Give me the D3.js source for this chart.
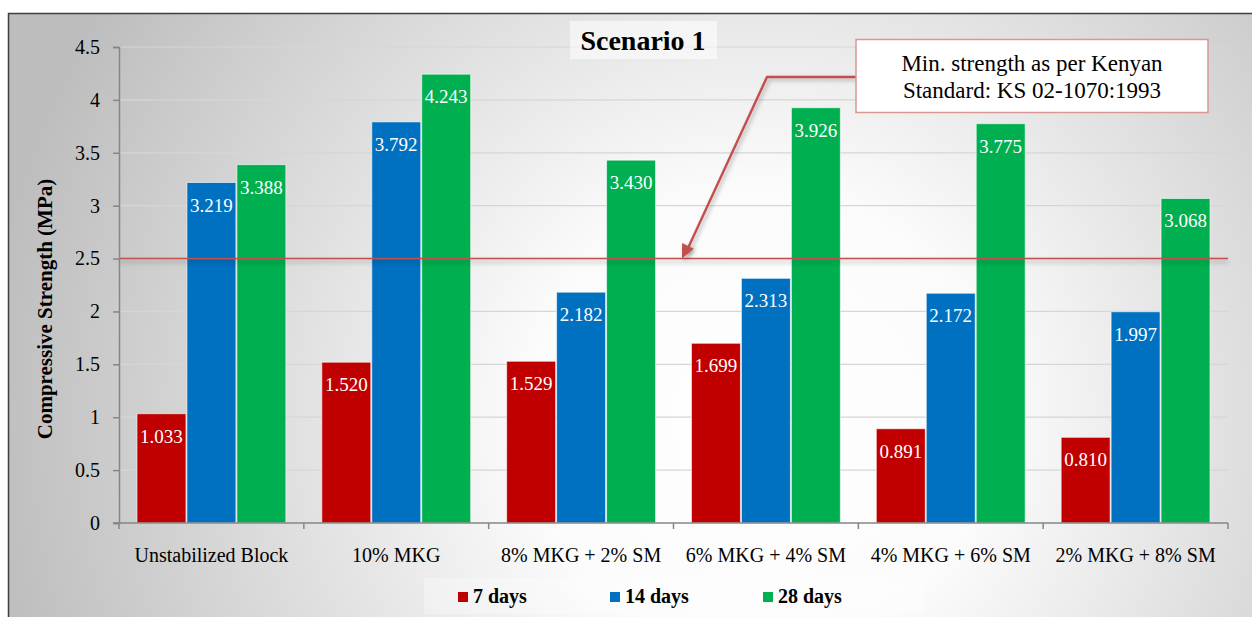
<!DOCTYPE html>
<html>
<head>
<meta charset="utf-8">
<script src="https://cdn.jsdelivr.net/npm/d3@7"></script>
<style>
  html, body { margin: 0; padding: 0; background: #ffffff; }
  svg { display: block; }
</style>
</head>
<body>
<svg id="chart" width="1252" height="617"></svg>
<script>
// Mix designations
const categories = ["Unstabilized Block", "10% MKG", "8% MKG + 2% SM", "6% MKG + 4% SM", "4% MKG + 6% SM", "2% MKG + 8% SM"];
// Curing ages
const seriesNames = ["7 days", "14 days", "28 days"];
const seriesColors = ["#c00000", "#0070c0", "#00b050"];
// Compressive strength (MPa) per curing age
const days7  = [1.033, 1.520, 1.529, 1.699, 0.891, 0.810];
const days14 = [3.219, 3.792, 2.182, 2.313, 2.172, 1.997];
const days28 = [3.388, 4.243, 3.430, 3.926, 3.775, 3.068];
const seriesValues = [days7, days14, days28];
// Axis ticks and reference level
const yTicks = [0, 0.5, 1, 1.5, 2, 2.5, 3, 3.5, 4, 4.5];
const minStrength = 2.5;

const SERIF = "'Liberation Serif', 'Times New Roman', Times, 'DejaVu Serif', serif";

const svg = d3.select("#chart").style("font-family", SERIF);
const defs = svg.append("defs");

const bg = defs.append("radialGradient").attr("id", "bgGrad")
  .attr("gradientUnits", "userSpaceOnUse")
  .attr("cx", 760).attr("cy", 420).attr("r", 780);
bg.append("stop").attr("offset", 0).attr("stop-color", "#ffffff");
bg.append("stop").attr("offset", 0.3).attr("stop-color", "#fbfbfb");
bg.append("stop").attr("offset", 1).attr("stop-color", "#bdbdbd");

// Soft shadow used under the reference line and the arrow
const shadow = defs.append("filter").attr("id", "shadow")
  .attr("filterUnits", "userSpaceOnUse")
  .attr("x", 0).attr("y", 0).attr("width", 1252).attr("height", 617);
shadow.append("feDropShadow").attr("dx", 0).attr("dy", 3).attr("stdDeviation", 2.5)
  .attr("flood-color", "#000").attr("flood-opacity", 0.35);

const arrowShadow = defs.append("filter").attr("id", "arrowShadow")
  .attr("filterUnits", "userSpaceOnUse")
  .attr("x", 0).attr("y", 0).attr("width", 1252).attr("height", 617);
arrowShadow.append("feDropShadow").attr("dx", 2).attr("dy", 2).attr("stdDeviation", 2)
  .attr("flood-color", "#000").attr("flood-opacity", 0.3);

// Chart area frame
svg.append("rect").attr("x", 8.5).attr("y", 13.5).attr("width", 1260).attr("height", 620)
  .attr("fill", "url(#bgGrad)").attr("stroke", "#3f3f3f").attr("stroke-width", 1.5);

const plot = { left: 119, right: 1228, top: 47, bottom: 523 };

const x0 = d3.scaleBand().domain(categories).range([plot.left, plot.right]).padding(0);
const x1 = d3.scaleBand().domain(seriesNames).range([0, x0.bandwidth()])
  .paddingInner(0).paddingOuter(0.35);
const y = d3.scaleLinear().domain([0, 4.5]).range([plot.bottom, plot.top]);

function txt(sel) { return sel.style("font-family", SERIF); }

// Gridlines
svg.append("g").selectAll("line").data(yTicks.filter(d => d > 0)).join("line")
  .attr("x1", plot.left).attr("x2", plot.right)
  .attr("y1", d => y(d)).attr("y2", d => y(d))
  .attr("stroke", "#d6d6d6").attr("stroke-width", 1.2);

// Legend backdrop
svg.append("rect").attr("x", 424).attr("y", 578).attr("width", 500).attr("height", 36)
  .attr("fill", "#ffffff").attr("opacity", 0.3);

// Title box
svg.append("rect").attr("x", 570).attr("y", 21).attr("width", 147).attr("height", 38)
  .attr("fill", "#ffffff").attr("opacity", 0.55);
txt(svg.append("text")).attr("x", 643).attr("y", 50).attr("text-anchor", "middle")
  .attr("font-size", 28).attr("font-weight", "bold").attr("fill", "#000")
  .text("Scenario 1");

// Bars
const groups = svg.append("g").selectAll("g").data(categories).join("g")
  .attr("transform", d => `translate(${x0(d)},0)`);

groups.each(function (cat, ci) {
  const g = d3.select(this);
  seriesNames.forEach((s, si) => {
    const v = seriesValues[si][ci];
    g.append("rect")
      .attr("x", x1(s) + 0.5).attr("width", x1.bandwidth() - 1)
      .attr("y", y(v)).attr("height", y(0) - y(v))
      .attr("fill", seriesColors[si])
      .attr("stroke", "#ffffff").attr("stroke-opacity", 0.6).attr("stroke-width", 1);
    txt(g.append("text"))
      .attr("x", x1(s) + x1.bandwidth() / 2).attr("y", y(v) + 29)
      .attr("text-anchor", "middle").attr("font-size", 19).attr("fill", "#ffffff")
      .text(d3.format(".3f")(v));
  });
});

// Reference line at the minimum strength
svg.append("line")
  .attr("x1", plot.left).attr("x2", plot.right)
  .attr("y1", y(minStrength)).attr("y2", y(minStrength))
  .attr("stroke", "#c0504d").attr("stroke-width", 1.5)
  .attr("filter", "url(#shadow)");

// Axes
const yAxis = d3.axisLeft(y).tickValues(yTicks).tickSize(6).tickPadding(13)
  .tickFormat(d => d3.format("")(d));
const yG = svg.append("g").attr("transform", `translate(${plot.left},0)`).call(yAxis)
  .attr("font-family", null);
yG.select(".domain").attr("stroke", "#868686").attr("stroke-width", 1.5);
yG.selectAll(".tick line").attr("stroke", "#868686").attr("stroke-width", 1.5);
txt(yG.selectAll(".tick text")).attr("font-size", 20).attr("fill", "#000");

const xAxis = d3.axisBottom(x0).tickSize(0).tickPadding(25);
const xG = svg.append("g").attr("transform", `translate(0,${plot.bottom})`).call(xAxis)
  .attr("font-family", null);
xG.select(".domain").remove();
txt(xG.selectAll(".tick text")).attr("font-size", 20).attr("fill", "#000");
svg.append("line").attr("x1", plot.left - 6).attr("x2", plot.right)
  .attr("y1", plot.bottom).attr("y2", plot.bottom)
  .attr("stroke", "#868686").attr("stroke-width", 1.5);
const boundaries = categories.map(c => x0(c)).concat([plot.right]);
svg.append("g").selectAll("line").data(boundaries).join("line")
  .attr("x1", d => d).attr("x2", d => d)
  .attr("y1", plot.bottom).attr("y2", plot.bottom + 6)
  .attr("stroke", "#868686").attr("stroke-width", 1.5);

// Y-axis title
txt(svg.append("text"))
  .attr("transform", `translate(52,${(plot.top + plot.bottom) / 2 + 24}) rotate(-90)`)
  .attr("text-anchor", "middle").attr("font-size", 21).attr("font-weight", "bold")
  .attr("fill", "#000").text("Compressive Strength (MPa)");

// Legend
const legendX = [458, 610, 763];
const legend = svg.append("g").selectAll("g").data(seriesNames).join("g")
  .attr("transform", (d, i) => `translate(${legendX[i]},592)`);
legend.append("rect").attr("width", 10).attr("height", 10)
  .attr("fill", (d, i) => seriesColors[i]);
txt(legend.append("text")).attr("x", 15).attr("y", 10.5)
  .attr("font-size", 20).attr("font-weight", "bold").attr("fill", "#000")
  .text(d => d);

// Annotation arrow
const tipY = y(minStrength);
svg.append("path")
  .attr("d", `M856,77 L767,77 L686,${tipY - 6}`)
  .attr("fill", "none").attr("stroke", "#c0504d").attr("stroke-width", 2.4)
  .attr("filter", "url(#arrowShadow)");
// Arrow head pointing at the reference line
(function () {
  const tx = 682, ty = tipY;
  const ang = Math.atan2(ty - 77, tx - 767);
  const len = 14, half = 6.5;
  const bx = tx - len * Math.cos(ang), by = ty - len * Math.sin(ang);
  const px = -Math.sin(ang) * half, py = Math.cos(ang) * half;
  svg.append("path")
    .attr("d", `M${tx},${ty} L${bx + px},${by + py} L${bx - px},${by - py} Z`)
    .attr("fill", "#c0504d").attr("filter", "url(#arrowShadow)");
})();

// Annotation box
svg.append("rect").attr("x", 856).attr("y", 39.5).attr("width", 352).attr("height", 73)
  .attr("fill", "#ffffff").attr("stroke", "#d99694").attr("stroke-width", 1.5);
txt(svg.append("text")).attr("x", 1032).attr("y", 71).attr("text-anchor", "middle")
  .attr("font-size", 23).attr("fill", "#000").text("Min. strength as per Kenyan");
txt(svg.append("text")).attr("x", 1032).attr("y", 98).attr("text-anchor", "middle")
  .attr("font-size", 23).attr("fill", "#000").text("Standard: KS 02-1070:1993");
</script>
</body>
</html>
